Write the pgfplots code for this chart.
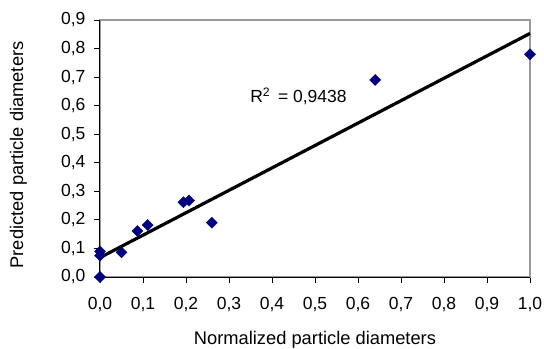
\documentclass[border=0pt]{standalone}
\usepackage{fontspec}
\setmainfont{Liberation Sans}
\usepackage{pgfplots}
\pgfplotsset{compat=1.18}
\definecolor{navy}{RGB}{0,0,128}
\begin{document}
\begin{tikzpicture}[x=1bp,y=1bp]
\useasboundingbox (-100bp,-72bp) rectangle (444bp,277bp);
\begin{axis}[
  at={(0,0)}, anchor=south west,
  scale only axis, width=430bp, height=257bp,
  xmin=0, xmax=1, ymin=0, ymax=0.9,
  xtick={0,0.1,0.2,0.3,0.4,0.5,0.6,0.7,0.8,0.9,1.0},
  ytick={0,0.1,0.2,0.3,0.4,0.5,0.6,0.7,0.8,0.9},
  xtick pos=bottom, ytick pos=left,
  tick align=outside, major tick length=6bp,
  tick style={black, line width=0.8bp},
  axis line style={gray!80, line width=1.2bp},
  /pgf/number format/.cd, use comma, fixed, fixed zerofill, precision=1, assume math mode=true,
  /pgfplots/.cd,
  ticklabel style={font=\fontsize{17.5bp}{20bp}\selectfont},
  xticklabel style={yshift=-11bp},
  yticklabel style={xshift=-5bp},
  xlabel={Normalized particle diameters},
  ylabel={Predicted particle diameters},
  label style={font=\fontsize{18.3bp}{21bp}\selectfont},
  xlabel style={at={(axis description cs:0.5,-0.262)}, anchor=base},
  ylabel style={at={(axis description cs:-0.19,0.475)}, anchor=center, rotate=0},
  clip=false,
]
\draw[black, line width=1bp] (rel axis cs:0,1) -- (rel axis cs:0,0) -- (rel axis cs:1,0);
\addplot[black, line width=3.2bp] coordinates {(0,0.068) (1,0.853)};
\addplot[only marks, mark=square*, mark size=3.9bp, mark options={rotate=45, fill=navy, draw=navy}] coordinates {
(0,0) (0,0.09) (0,0.075) (0.05,0.086) (0.087,0.161) (0.111,0.182)
(0.194,0.262) (0.207,0.268) (0.26,0.19) (0.64,0.69) (1.0,0.78)
};
\node[font=\fontsize{17.5bp}{20bp}\selectfont] at (axis cs:0.4616,0.632) {R\textsuperscript{2}\ \,= 0,9438};
\end{axis}
\end{tikzpicture}
\end{document}
